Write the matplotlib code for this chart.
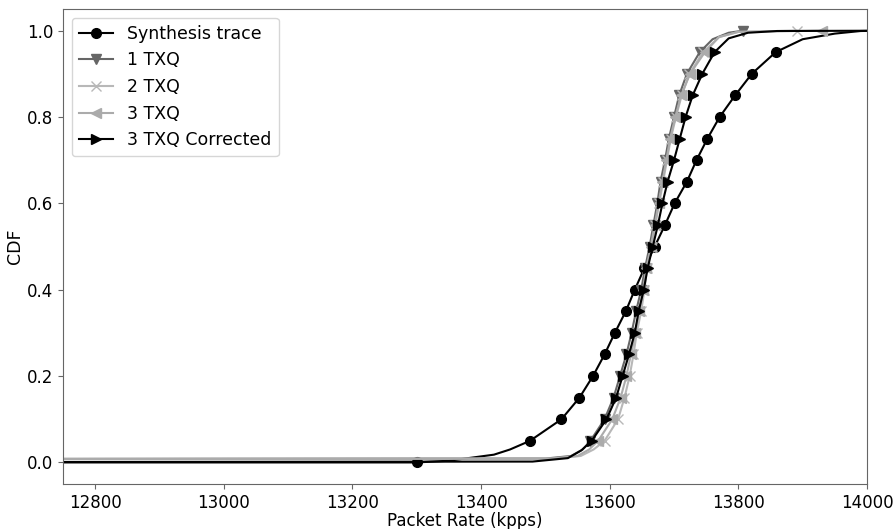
import matplotlib
matplotlib.use('Agg')
import matplotlib.pyplot as plt
import numpy as np

# CDF levels; markers sit on the 0.05 steps
levels = [0.0, 0.05, 0.1, 0.15, 0.2, 0.25, 0.3, 0.35, 0.4, 0.45, 0.5,
          0.55, 0.6, 0.65, 0.7, 0.75, 0.8, 0.85, 0.9, 0.95, 1.0]

# x value (kpps) at each CDF level, None = no marker at that level
synth_q = [13300, 13476, 13525, 13553, 13574, 13592, 13608, 13625, 13639, 13654, 13670,
           13686, 13701, 13720, 13735, 13752, 13771, 13795, 13821, 13858, 14030]
txq1_q = [None, 13570, 13592, 13606, 13616, 13626, 13634, 13641, 13649, 13655, 13662,
          13668, 13674, 13679, 13686, 13692, 13700, 13708, 13720, 13740, 13808]
txq2_q = [None, 13592, 13613, 13623, 13631, 13637, 13642, 13649, 13654, 13658, 13665,
          13671, 13677, 13683, 13689, 13695, 13703, 13712, 13724, 13745, 13891]
txq3_q = [None, 13582, 13604, 13617, 13626, 13633, 13640, 13646, 13652, 13657, 13664,
          13670, 13676, 13682, 13688, 13694, 13702, 13711, 13725, 13748, 13930]
corr_q = [None, 13572, 13595, 13610, 13620, 13630, 13639, 13645, 13653, 13659, 13667,
          13675, 13682, 13690, 13700, 13709, 13718, 13729, 13744, 13763, 14080]

# extra points between the quantiles (tails of the curves)
synth_tail_x = [12600, 13350, 13390, 13420, 13445, 13900, 13950, 13990]
synth_tail_y = [0.0, 0.004, 0.012, 0.018, 0.03, 0.98, 0.993, 0.999]
txq1_tail_x = [12600, 13500, 13540, 13558, 13760, 13785]
txq1_tail_y = [0.008, 0.009, 0.015, 0.03, 0.98, 0.995]
txq2_tail_x = [12600, 13510, 13555, 13575, 13770, 13800]
txq2_tail_y = [0.008, 0.009, 0.015, 0.03, 0.985, 0.997]
txq3_tail_x = [12600, 13510, 13550, 13568, 13770, 13800]
txq3_tail_y = [0.008, 0.009, 0.015, 0.03, 0.985, 0.997]
corr_tail_x = [12600, 13480, 13535, 13556, 13785, 13815, 13860]
corr_tail_y = [0.001, 0.002, 0.01, 0.028, 0.982, 0.995, 0.999]


def build(q, tx, ty):
    qx = [x for x in q if x is not None]
    qy = [l for x, l in zip(q, levels) if x is not None]
    xs = np.array(qx + list(tx), dtype=float)
    ys = np.array(qy + list(ty), dtype=float)
    is_mark = np.array([True] * len(qx) + [False] * len(tx))
    order = np.lexsort((xs, ys))
    xs, ys, is_mark = xs[order], ys[order], is_mark[order]
    marks = [int(i) for i in np.where(is_mark)[0]]
    return xs, ys, marks


plt.rcParams['font.family'] = 'DejaVu Sans'
fig = plt.figure(figsize=(8.96, 5.29), dpi=100)
ax = fig.add_axes([0.0703, 0.085, 0.8973, 0.898])

series = [
    ('Synthesis trace', synth_q, synth_tail_x, synth_tail_y, 'black', 'o'),
    ('1 TXQ', txq1_q, txq1_tail_x, txq1_tail_y, '#666666', 'v'),
    ('2 TXQ', txq2_q, txq2_tail_x, txq2_tail_y, '#b8b8b8', 'x'),
    ('3 TXQ', txq3_q, txq3_tail_x, txq3_tail_y, '#ababab', '<'),
    ('3 TXQ Corrected', corr_q, corr_tail_x, corr_tail_y, 'black', '>'),
]

for name, q, tx, ty, col, mk in series:
    xs, ys, marks = build(q, tx, ty)
    ax.plot(xs, ys, color=col, marker=mk, markevery=marks, markersize=7,
            linewidth=1.5, label=name)

ax.set_xlim(12750, 14000)
ax.set_ylim(-0.05, 1.05)
ax.set_xticks([12800, 13000, 13200, 13400, 13600, 13800, 14000])
ax.set_yticks([0.0, 0.2, 0.4, 0.6, 0.8, 1.0])
ax.tick_params(labelsize=12, color='0.4')
for s in ax.spines.values():
    s.set_color('0.4')
ax.set_xlabel('Packet Rate (kpps)', fontsize=12, labelpad=0)
ax.set_ylabel('CDF', fontsize=12.5, labelpad=2)
ax.legend(loc='upper left', fontsize=12.5, handlelength=2, borderpad=0.4,
          labelspacing=0.5)

fig.savefig('out.png', dpi=100)
